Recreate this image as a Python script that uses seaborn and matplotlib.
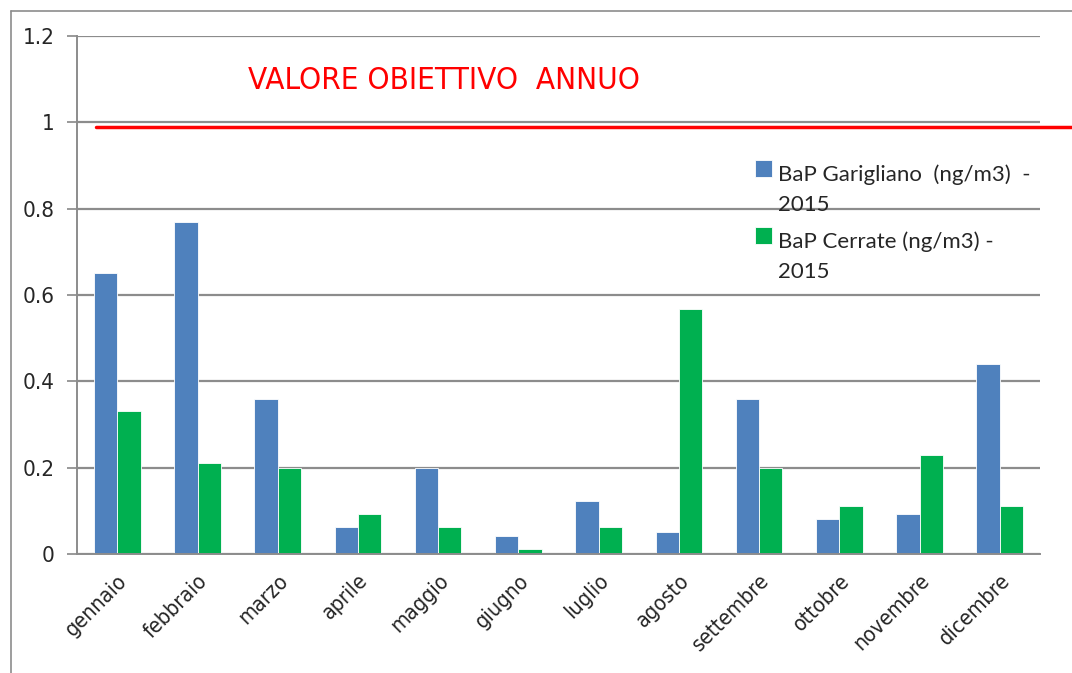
import matplotlib.pyplot as plt
import seaborn as sns
import pandas as pd
from matplotlib.lines import Line2D
from matplotlib.patches import Rectangle
from matplotlib.legend_handler import HandlerPatch

months = ["gennaio", "febbraio", "marzo", "aprile", "maggio", "giugno",
          "luglio", "agosto", "settembre", "ottobre", "novembre", "dicembre"]
garigliano = [0.65, 0.77, 0.36, 0.063, 0.20, 0.042, 0.123, 0.05, 0.36, 0.08, 0.093, 0.44]
cerrate = [0.33, 0.21, 0.20, 0.093, 0.063, 0.012, 0.063, 0.567, 0.20, 0.11, 0.23, 0.11]
series_names = ["BaP Garigliano  (ng/m3)  -\n2015", "BaP Cerrate (ng/m3) -\n2015"]
target = 0.99
y_ticks = [0, 0.2, 0.4, 0.6, 0.8, 1.0, 1.2]
y_labels = ["0", "0.2", "0.4", "0.6", "0.8", "1", "1.2"]

df = pd.DataFrame({
    "mese": months * 2,
    "valore": garigliano + cerrate,
    "serie": [series_names[0]] * 12 + [series_names[1]] * 12,
})

sns.set_theme(style="white")
plt.rcParams["font.family"] = ["DejaVu Sans"]
plt.rcParams["font.stretch"] = "condensed"

fig = plt.figure(figsize=(10.72, 6.73), dpi=100)
ax = fig.add_axes([0.072, 0.177, 0.898, 0.7695])

sns.barplot(data=df, x="mese", y="valore", hue="serie",
            palette=["#4F81BD", "#00B050"], saturation=1, width=0.58,
            edgecolor="white", linewidth=0.6, ax=ax)

ax.set_ylim(0, 1.2)
ax.set_xlim(-0.5, 11.5)
ax.set_yticks(y_ticks)
ax.set_yticklabels(y_labels, fontsize=16)
ax.set_xticks(range(12))
ax.set_xticklabels(months, fontsize=15.5, rotation=45, ha="right",
                   rotation_mode="anchor")
ax.set_xticks([i - 0.5 for i in range(13)], minor=True)
ax.tick_params(axis="x", which="major", length=0, pad=12)
ax.tick_params(axis="x", which="minor", length=7, width=1.2, color="#888888", direction="out")
ax.tick_params(axis="y", length=7, width=1.2, color="#888888", direction="out", left=True, pad=9)
ax.set_xlabel("")
ax.set_ylabel("")
ax.grid(axis="y", color="#8c8c8c", linewidth=1.6)
ax.set_axisbelow(True)
for side in ["top", "right"]:
    ax.spines[side].set_visible(False)
for side in ["left", "bottom"]:
    ax.spines[side].set_color("#8c8c8c")
    ax.spines[side].set_linewidth(1.4)

# target line, runs past the plot area like in the original
ax.axhline(target, xmin=0.02, xmax=1.04, color="red", linewidth=2.5, clip_on=False)
fig.text(0.231, 0.88, "VALORE OBIETTIVO  ANNUO", color="red", fontsize=22.5,
         va="center", ha="left")


def top_square(legend, orig_handle, xdescent, ydescent, width, height, fontsize):
    s = width
    return Rectangle((-xdescent, -ydescent + height - s * 0.45), s, s)


handles, labels = ax.get_legend_handles_labels()
leg = ax.legend(handles, labels, loc="upper left", bbox_to_anchor=(0.686, 0.785),
                bbox_transform=fig.transFigure, frameon=False,
                prop={"family": ["Lato", "DejaVu Sans"], "stretch": "normal", "size": 16},
                handlelength=0.75, handleheight=2.6, handletextpad=0.25,
                labelspacing=0.75,
                handler_map={h: HandlerPatch(patch_func=top_square) for h in handles})
for t in leg.get_texts():
    t.set_linespacing(1.6)

# chart border
fig.add_artist(Line2D([11 / 1072, 11 / 1072], [0, 1 - 11 / 673],
                      transform=fig.transFigure, color="#8c8c8c", linewidth=1.2))
fig.add_artist(Line2D([11 / 1072, 1], [1 - 11 / 673, 1 - 11 / 673],
                      transform=fig.transFigure, color="#8c8c8c", linewidth=1.2))

fig.savefig("out.png", dpi=100)
